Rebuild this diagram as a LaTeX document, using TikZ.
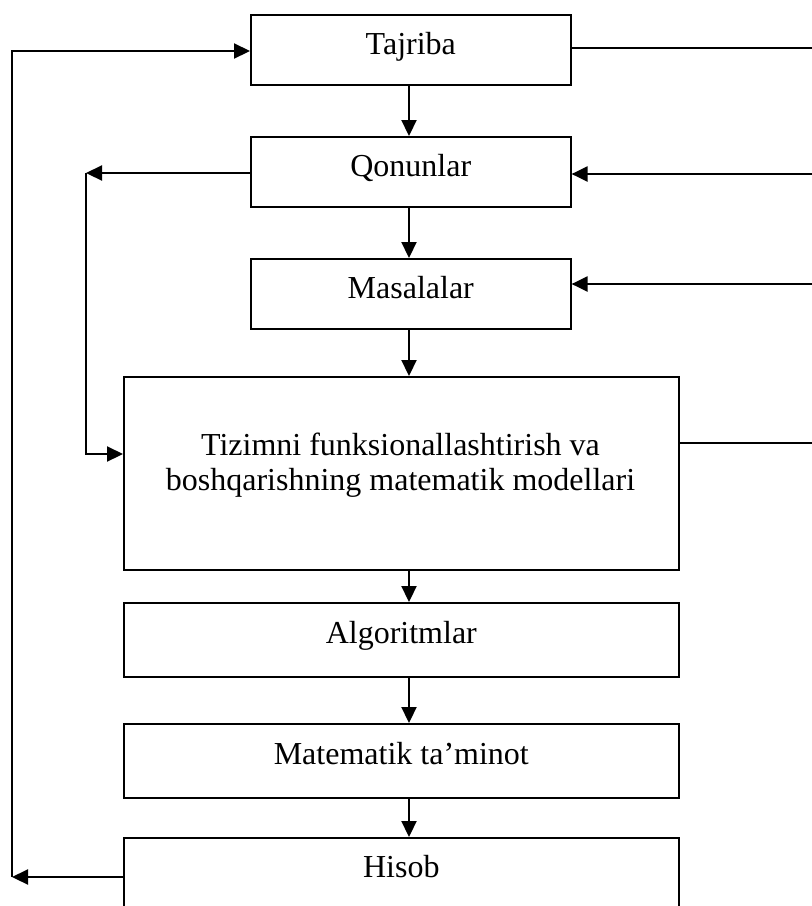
\documentclass[tikz,border=0pt]{standalone}
\usepackage{fontspec}
\setmainfont{Liberation Serif}
\usetikzlibrary{arrows.meta}
\begin{document}
\begin{tikzpicture}[x=1pt,y=-1pt,
  box/.style={draw, line width=1.6pt, inner sep=0pt, font=\fontsize{32}{36}\selectfont},
  topbox/.style={box, minimum width=320pt, text height=40pt, text depth=30pt},
  lowbox/.style={box, minimum width=555pt, text height=41pt, text depth=33pt},
  arr/.style={line width=2.2pt, -{Triangle[length=16pt,width=15pt]}},
  ln/.style={line width=1.6pt}]
\useasboundingbox (0,0) rectangle (812,906);
\clip (0,0) rectangle (812,906);
\node[topbox, anchor=north west] (taj) at (250,14) {Tajriba};
\node[topbox, anchor=north west] (qon) at (250,136) {Qonunlar};
\node[topbox, anchor=north west] (mas) at (250,258) {Masalalar};
\node[box, anchor=north west, minimum width=555pt, minimum height=193pt] (big) at (123,376) {};
\node[font=\fontsize{32}{35}\selectfont, align=center, inner sep=0pt] (bigtxt) at (400.5,465)
  {Tizimni funksionallashtirish va\\boshqarishning matematik modellari};
\node[lowbox, anchor=north west] (alg) at (123,602) {Algoritmlar};
\node[lowbox, anchor=north west] (mat) at (123,723) {Matematik ta’minot};
\node[box, anchor=north west, minimum width=555pt, text height=40pt, text depth=50pt] (his) at (123,837) {Hisob};
% column
\coordinate (cx) at (409,0);
\draw[arr] (taj.south -| cx) -- (qon.north -| cx);
\draw[arr] (qon.south -| cx) -- (mas.north -| cx);
\draw[arr] (mas.south -| cx) -- (big.north -| cx);
\draw[arr] (big.south -| cx) -- (alg.north -| cx);
\draw[arr] (alg.south -| cx) -- (mat.north -| cx);
\draw[arr] (mat.south -| cx) -- (his.north -| cx);
% left outer loop
\coordinate (lA) at (12,51);
\coordinate (lB) at (12,877);
\draw[arr] (his.west |- lB) -- (lB);
\draw[arr] (lB) -- (lA) -- (taj.west |- lA);
% left inner loop
\coordinate (mA) at (86,173);
\coordinate (mB) at (86,454);
\draw[arr] (qon.west |- mA) -- (mA);
\draw[arr] (mA) -- (mB) -- (big.west |- mB);
% right side
\coordinate (rT) at (812,48);
\coordinate (rQ) at (812,174);
\coordinate (rM) at (812,284);
\coordinate (rB) at (812,443);
\draw[ln] (taj.east |- rT) -- (rT);
\draw[arr] (rQ) -- (qon.east |- rQ);
\draw[arr] (rM) -- (mas.east |- rM);
\draw[ln] (big.east |- rB) -- (rB);
\end{tikzpicture}
\end{document}
